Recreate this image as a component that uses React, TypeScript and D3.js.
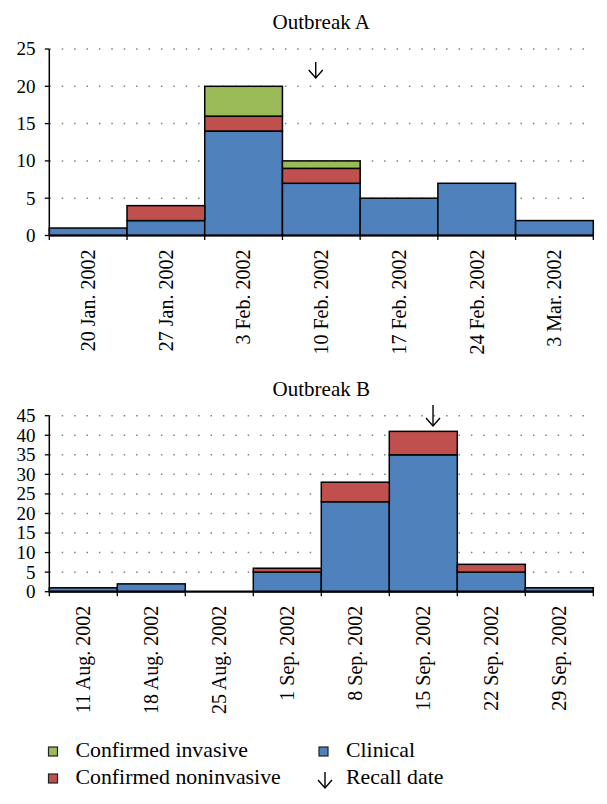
import React from "react";
import * as d3 from "d3";

const categoriesA = ["20 Jan. 2002", "27 Jan. 2002", "3 Feb. 2002", "10 Feb. 2002", "17 Feb. 2002", "24 Feb. 2002", "3 Mar. 2002"];
const clinicalA = [1, 2, 14, 7, 5, 7, 2];
const noninvasiveA = [0, 2, 2, 2, 0, 0, 0];
const invasiveA = [0, 0, 4, 1, 0, 0, 0];
const yTicksA = [0, 5, 10, 15, 20, 25];
const recallA = { category: "10 Feb. 2002", dayOffset: 3 };

const categoriesB = ["11 Aug. 2002", "18 Aug. 2002", "25 Aug. 2002", "1 Sep. 2002", "8 Sep. 2002", "15 Sep. 2002", "22 Sep. 2002", "29 Sep. 2002"];
const clinicalB = [1, 2, 0, 5, 23, 35, 5, 1];
const noninvasiveB = [0, 0, 0, 1, 5, 6, 2, 0];
const invasiveB = [0, 0, 0, 0, 0, 0, 0, 0];
const yTicksB = [0, 5, 10, 15, 20, 25, 30, 35, 40, 45];
const recallB = { category: "15 Sep. 2002", dayOffset: 4.5 };

const seriesKeys = ["clinical", "noninvasive", "invasive"];
const seriesLabels: Record<string, string> = {
  invasive: "Confirmed invasive",
  noninvasive: "Confirmed noninvasive",
  clinical: "Clinical",
};
const colors: Record<string, string> = {
  clinical: "#4F81BD",
  noninvasive: "#C0504D",
  invasive: "#9BBB59",
};

const FONT = "'Liberation Serif', 'Times New Roman', serif";

type ChartProps = {
  title: string;
  categories: string[];
  clinical: number[];
  noninvasive: number[];
  invasive: number[];
  yTicks: number[];
  recall: { category: string; dayOffset: number };
  top: number;
  bottom: number;
  titleY: number;
  arrowTop: number;
  arrowLen: number;
};

const LEFT = 49.3;
const RIGHT = 593.3;

function Arrow({ x, y, len }: { x: number; y: number; len: number }) {
  return (
    <g stroke="#000" strokeWidth={1.4} fill="none">
      <line x1={x} y1={y} x2={x} y2={y + len} />
      <polyline points={`${x - 7},${y + len - 8} ${x},${y + len} ${x + 7},${y + len - 8}`} />
    </g>
  );
}

function Chart(p: ChartProps) {
  const rows = p.categories.map((c, i) => ({
    category: c,
    clinical: p.clinical[i],
    noninvasive: p.noninvasive[i],
    invasive: p.invasive[i],
  }));
  const x = d3.scaleBand().domain(p.categories).range([LEFT, RIGHT]).padding(0);
  const yMax = p.yTicks[p.yTicks.length - 1];
  const y = d3.scaleLinear().domain([0, yMax]).range([p.bottom, p.top]);
  const stacked = d3.stack<any>().keys(seriesKeys)(rows);
  const bw = x.bandwidth();
  const boundaries = p.categories.map((c) => x(c) as number).concat([RIGHT]);
  const recallX = (x(p.recall.category) as number) + (p.recall.dayOffset / 7) * bw;

  return (
    <g>
      <text x={(LEFT + RIGHT) / 2} y={p.titleY} textAnchor="middle" fontSize={21} fontFamily={FONT}>
        {p.title}
      </text>
      {p.yTicks.filter((t) => t > 0).map((t) => (
        <line key={"g" + t} x1={LEFT} x2={RIGHT - 4} y1={y(t)} y2={y(t)} stroke="#808080" strokeWidth={1.5} strokeDasharray="1.5 10.9" />
      ))}
      {stacked.map((s) =>
        s.map((d, i) =>
          d[1] - d[0] > 0 ? (
            <rect
              key={s.key + i}
              x={x(p.categories[i]) as number}
              width={bw}
              y={y(d[1])}
              height={y(d[0]) - y(d[1])}
              fill={colors[s.key]}
              stroke="#000"
              strokeWidth={1.5}
            />
          ) : null
        )
      )}
      <line x1={LEFT} x2={LEFT} y1={p.top} y2={p.bottom} stroke="#000" strokeWidth={1.5} />
      <line x1={LEFT} x2={RIGHT} y1={p.bottom} y2={p.bottom} stroke="#000" strokeWidth={2.2} />
      {p.yTicks.map((t) => (
        <g key={"t" + t}>
          <line x1={LEFT - 4.5} x2={LEFT} y1={y(t)} y2={y(t)} stroke="#000" strokeWidth={1.3} />
          <text x={35.5} y={y(t)} dy="0.34em" textAnchor="end" fontSize={19} fontFamily={FONT}>
            {t}
          </text>
        </g>
      ))}
      {boundaries.map((bx, i) => (
        <line key={"b" + i} x1={bx} x2={bx} y1={p.bottom} y2={p.bottom + 4.5} stroke="#000" strokeWidth={1.3} />
      ))}
      {p.categories.map((c) => (
        <text
          key={"l" + c}
          transform={`translate(${(x(c) as number) + bw / 2},${p.bottom + 14}) rotate(-90)`}
          dy="0.34em"
          textAnchor="end"
          fontSize={20}
          fontFamily={FONT}
        >
          {c}
        </text>
      ))}
      <Arrow x={recallX} y={p.arrowTop} len={p.arrowLen} />
    </g>
  );
}

function Legend() {
  const items = [
    { key: "invasive", x: 48.5, y: 751.5 },
    { key: "noninvasive", x: 48.5, y: 778.5 },
    { key: "clinical", x: 319, y: 751.5 },
  ];
  return (
    <g fontFamily={FONT} fontSize={21.8}>
      {items.map((it) => (
        <g key={it.key}>
          <rect x={it.x} y={it.y - 4.5} width={9} height={9} fill={colors[it.key]} stroke="#222" strokeWidth={1.2} />
          <text x={it.x + 27} y={it.y + 5.5}>{seriesLabels[it.key]}</text>
        </g>
      ))}
      <Arrow x={325} y={772} len={16} />
      <text x={346} y={784}>Recall date</text>
    </g>
  );
}

export default function App() {
  return (
    <svg width={607} height={804} style={{ position: "absolute", left: 0, top: 0, background: "#fff" }}>
      <rect width={607} height={804} fill="#fff" />
      <Chart
        title="Outbreak A"
        categories={categoriesA}
        clinical={clinicalA}
        noninvasive={noninvasiveA}
        invasive={invasiveA}
        yTicks={yTicksA}
        recall={recallA}
        top={49}
        bottom={235.5}
        titleY={28.5}
        arrowTop={62}
        arrowLen={16}
      />
      <Chart
        title="Outbreak B"
        categories={categoriesB}
        clinical={clinicalB}
        noninvasive={noninvasiveB}
        invasive={invasiveB}
        yTicks={yTicksB}
        recall={recallB}
        top={415.7}
        bottom={591.7}
        titleY={395.5}
        arrowTop={405}
        arrowLen={21}
      />
      <Legend />
    </svg>
  );
}
